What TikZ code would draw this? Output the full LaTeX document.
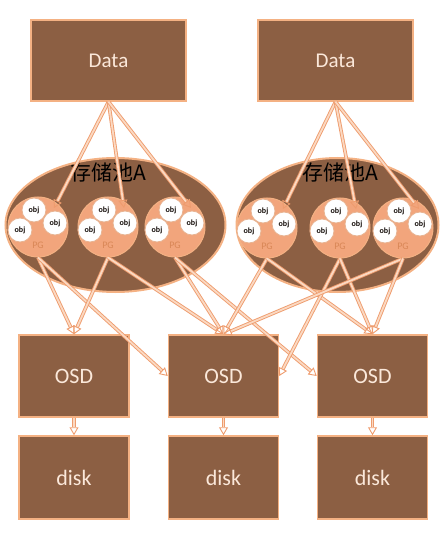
\documentclass[tikz,border=0pt]{standalone}
\usepackage{fontspec}
\setmainfont{Carlito}
\newfontfamily\cjk{Noto Sans CJK SC}
\usetikzlibrary{arrows.meta,calc,shapes.geometric}
\definecolor{brn}{HTML}{8C5F43}
\definecolor{bord}{HTML}{F4B183}
\definecolor{pgfill}{HTML}{F2A57C}
\definecolor{pgtxt}{HTML}{D98757}
\definecolor{arrout}{HTML}{EE9C6E}
\definecolor{arrin}{HTML}{FBD9C2}
\definecolor{txtlight}{HTML}{FBE8DA}
\definecolor{objbord}{HTML}{E8B391}
\tikzset{
  box/.style={draw=bord, line width=1.5pt, fill=brn, minimum width=#1, inner sep=0pt, text=txtlight},
  pool/.style={ellipse, draw=bord, line width=2pt, fill=brn},
  pgc/.style={circle, draw=bord, line width=1pt, fill=pgfill, minimum size=60pt, inner sep=0pt},
  objc/.style={circle, draw=objbord, line width=0.8pt, fill=white, minimum size=24pt, inner sep=0pt, font=\fontsize{8}{9}\selectfont\bfseries, text=black!85!brn},
  pglab/.style={font=\fontsize{10}{11}\selectfont, text=pgtxt},
  arr/.style={draw=arrout, double=arrin, double distance=1.8pt, line width=0.9pt, -{Triangle[open, length=8pt, width=9pt]}},
}
\begin{document}
\begin{tikzpicture}[x=1pt,y=-1pt]
\useasboundingbox (0,0) rectangle (445,534);
% Data boxes
\node[box=155pt, minimum height=81pt, font=\fontsize{21}{23}\selectfont] (dataL) at (108.5,60.5) {Data};
\node[box=155pt, minimum height=81pt, font=\fontsize{21}{23}\selectfont] (dataR) at (335.5,60.5) {Data};
% pools
\node[pool, minimum width=220pt, minimum height=134pt] (poolL) at (115.5,225) {};
\node[pool, minimum width=202pt, minimum height=134pt] (poolR) at (337.5,225) {};
\node[font=\cjk\fontsize{21}{23}\selectfont, text=black] (tL) at (108,172) {存储池A};
\node[font=\cjk\fontsize{21}{23}\selectfont, text=black] (tR) at (340,172) {存储池A};
% PG circles
\foreach \n/\x/\y in {L1/38/227, L2/108/227, L3/175/227, R1/267/228, R2/340/228, R3/403/228}{
  \node[pgc] (\n) at (\x,\y) {};
  \node[objc] (\n a) at ($(\n)+(-4,-17)$) {obj};
  \node[objc] (\n b) at ($(\n)+(-18,3)$) {obj};
  \node[objc] (\n c) at ($(\n)+(17,-4)$) {obj};
  \node[pglab] (\n p) at ($(\n)+(0,18)$) {PG};
  \coordinate (\n t) at ($(\n)+(16,-19)$);
}
% OSD and disk
\foreach \i/\x in {1/74, 2/223.5, 3/372.5}{
  \node[box=110pt, minimum height=82pt, font=\fontsize{22}{24}\selectfont] (osd\i) at (\x,376) {OSD};
  \node[box=110pt, minimum height=83pt, font=\fontsize{22}{24}\selectfont] (disk\i) at (\x,477.5) {disk};
}
% Data -> PG
\foreach \n in {L1,L2,L3}{\draw[arr] (dataL.south) -- (\n t);}
\foreach \n in {R1,R2,R3}{\draw[arr] (dataR.south) -- (\n t);}
% PG -> OSD
\draw[arr] (L1.south) -- (osd1.north);
\draw[arr] (L1.south) -- (osd2.west);
\draw[arr] (L2.south) -- (osd1.north);
\draw[arr] (L2.south) -- (osd2.north);
\draw[arr] (L3.south) -- (osd2.north);
\draw[arr] (L3.south) -- (osd3.west);
\draw[arr] (R1.south) -- (osd2.north);
\draw[arr] (R1.south) -- (osd3.north);
\draw[arr] (R2.south) -- (osd2.east);
\draw[arr] (R2.south) -- (osd3.north);
\draw[arr] (R3.south) -- (osd2.north);
\draw[arr] (R3.south) -- (osd3.north);
% OSD -> disk
\foreach \i in {1,2,3}{\draw[arr] (osd\i.south) -- (disk\i.north);}
\end{tikzpicture}
\end{document}
